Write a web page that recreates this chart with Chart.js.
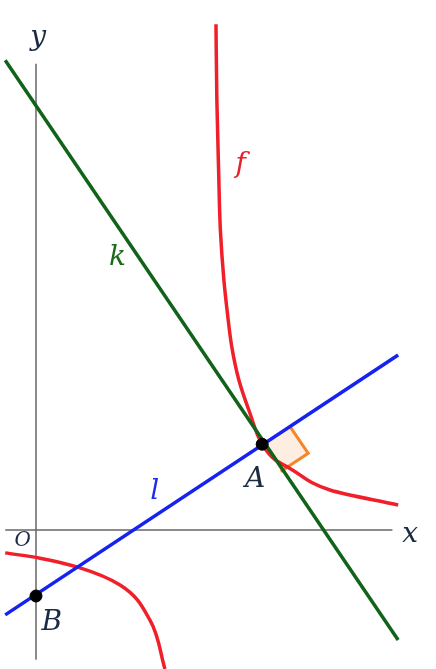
<!DOCTYPE html>
<html>
<head>
<meta charset="utf-8">
<script src="https://cdn.jsdelivr.net/npm/chart.js@4"></script>
<style>
  html, body { margin: 0; padding: 0; background: #fff; }
  #wrap { width: 436px; height: 669px; }
</style>
</head>
<body>
<div id="wrap"><canvas id="c"></canvas></div>
<script>
// curve f
const fRightX = [4.09, 4.11, 4.15, 4.19, 4.27, 4.35, 4.45, 4.61, 4.86, 5.14, 5.43, 5.77, 6.68, 8.23];
const fRightY = [11.50, 9.77, 8.18, 6.82, 5.68, 4.93, 4.16, 3.41, 2.66, 1.95, 1.60, 1.40, 0.91, 0.57];
const fLeftX = [-0.70, 0.09, 1.00, 1.91, 2.59, 2.93];
const fLeftY = [-0.52, -0.64, -0.86, -1.25, -2.05, -3.16];
// lines k and l (end points)
const kX = [-0.70, 8.23];
const kY = [10.68, -2.50];
const lX = [-0.70, 8.23];
const lY = [-1.93, 3.98];
// points A and B
const pointA = [5.14, 1.95];
const pointB = [0, -1.50];

const zip = (xs, ys) => xs.map((x, i) => ({ x: x, y: ys[i] }));

// right angle marker at A
const unit = (dx, dy) => { const n = Math.hypot(dx, dy); return [dx / n, dy / n]; };
const dl = unit(lX[1] - lX[0], lY[1] - lY[0]);
const dk = unit(kX[1] - kX[0], kY[1] - kY[0]);
const s = 0.75;
const marker = [
  { x: pointA[0], y: pointA[1] },
  { x: pointA[0] + dl[0] * s, y: pointA[1] + dl[1] * s },
  { x: pointA[0] + (dl[0] + dk[0]) * s, y: pointA[1] + (dl[1] + dk[1]) * s },
  { x: pointA[0] + dk[0] * s, y: pointA[1] + dk[1] * s }
];

const labels = [
  { t: 'y', x: 0.05, y: 11.2, c: '#1c2b45' },
  { t: 'x', x: 8.5, y: -0.1, c: '#1c2b45' },
  { t: 'O', x: -0.3, y: -0.25, c: '#1c2b45', size: 20 },
  { t: 'f', x: 4.65, y: 8.3, c: '#e8202a' },
  { t: 'k', x: 1.85, y: 6.2, c: '#1a6a1a' },
  { t: 'l', x: 2.7, y: 0.87, c: '#1f2ee8' },
  { t: 'A', x: 4.98, y: 1.15, c: '#1c2b45' },
  { t: 'B', x: 0.36, y: -2.1, c: '#1c2b45' }
];

const shapes = {
  id: 'shapes',
  beforeDatasetsDraw(chart) {
    // shaded right angle square
    const ctx = chart.ctx, xs = chart.scales.x, ys = chart.scales.y;
    ctx.save();
    ctx.beginPath();
    marker.forEach((p, i) => {
      const px = xs.getPixelForValue(p.x), py = ys.getPixelForValue(p.y);
      i ? ctx.lineTo(px, py) : ctx.moveTo(px, py);
    });
    ctx.closePath();
    ctx.fillStyle = 'rgba(253,225,205,0.6)';
    ctx.fill();
    ctx.restore();
  },
  afterDatasetsDraw(chart) {
    const ctx = chart.ctx, xs = chart.scales.x, ys = chart.scales.y;
    ctx.save();
    ctx.textAlign = 'center';
    ctx.textBaseline = 'middle';
    labels.forEach(l => {
      ctx.font = 'italic ' + (l.size || 28) + 'px "DejaVu Serif", "Liberation Serif", serif';
      ctx.fillStyle = l.c;
      ctx.fillText(l.t, xs.getPixelForValue(l.x), ys.getPixelForValue(l.y));
    });
    ctx.restore();
  }
};

const line = (data, color, width, extra) => Object.assign({
  data: data, borderColor: color, borderWidth: width, pointRadius: 0, fill: false, showLine: true
}, extra || {});

new Chart(document.getElementById('c'), {
  type: 'scatter',
  data: {
    datasets: [
      { data: [{ x: pointA[0], y: pointA[1] }, { x: pointB[0], y: pointB[1] }],
        pointRadius: 6, backgroundColor: '#000', borderColor: '#000', showLine: false, order: 0 },
      line(zip(kX, kY), '#11631a', 3.5, { order: 1 }),
      line(zip(lX, lY), '#1522f0', 3.5, { order: 1 }),
      line(zip(fRightX, fRightY), '#f01f2a', 3.5, { cubicInterpolationMode: 'monotone', indexAxis: 'y', order: 2 }),
      line(zip(fLeftX, fLeftY), '#f01f2a', 3.5, { cubicInterpolationMode: 'monotone', indexAxis: 'y', order: 2 }),
      line(marker.slice(1), '#f5862a', 3, { order: 3 }),
      line([{ x: -0.70, y: 0 }, { x: 8.1, y: 0 }], '#666', 1.5, { order: 4 }),
      line([{ x: 0, y: 10.6 }, { x: 0, y: -2.95 }], '#666', 1.5, { order: 4 })
    ]
  },
  options: {
    responsive: true, maintainAspectRatio: false, animation: false,
    layout: { padding: 0, autoPadding: false },
    plugins: { legend: { display: false }, tooltip: { enabled: false } },
    scales: {
      x: { type: 'linear', min: -0.818, max: 9.09, display: false },
      y: { type: 'linear', min: -3.16, max: 12.05, display: false }
    }
  },
  plugins: [shapes]
});
</script>
</body>
</html>
